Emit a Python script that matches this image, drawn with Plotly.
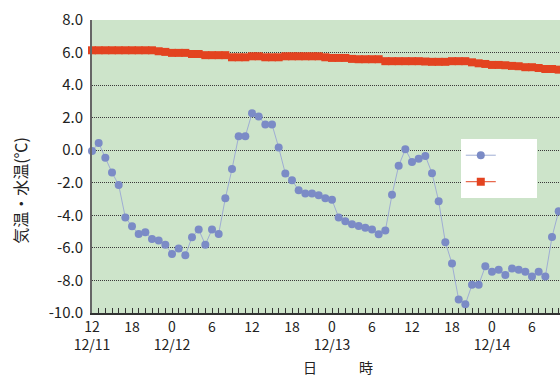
import plotly.graph_objects as go

# hours elapsed since 12/11 12:00 (hourly observations)
hours = list(range(71))

air_temp = [
    -0.05, 0.45, -0.47, -1.37, -2.13, -4.13, -4.67, -5.15, -5.04, -5.45,
    -5.55, -5.80, -6.37, -6.04, -6.45, -5.34, -4.87, -5.80, -4.87, -5.14,
    -2.95, -1.16, 0.86, 0.86, 2.27, 2.07, 1.58, 1.58, 0.17, -1.43,
    -1.84, -2.46, -2.66, -2.66, -2.76, -2.95, -3.05, -4.13, -4.36, -4.55,
    -4.65, -4.77, -4.87, -5.16, -4.93, -2.74, -0.96, 0.06, -0.72, -0.53,
    -0.35, -1.41, -3.13, -5.65, -6.96, -9.17, -9.46, -8.27, -8.27, -7.13,
    -7.47, -7.35, -7.66, -7.27, -7.35, -7.47, -7.76, -7.47, -7.76, -5.33,
    -3.75,
]

water_temp = [
    6.14, 6.14, 6.14, 6.14, 6.14, 6.14, 6.14, 6.14, 6.14, 6.14,
    6.08, 6.04, 5.98, 5.98, 5.98, 5.91, 5.91, 5.84, 5.84, 5.84,
    5.84, 5.71, 5.71, 5.71, 5.77, 5.77, 5.71, 5.71, 5.71, 5.77,
    5.77, 5.77, 5.77, 5.77, 5.77, 5.71, 5.67, 5.67, 5.67, 5.61,
    5.59, 5.59, 5.59, 5.59, 5.47, 5.47, 5.47, 5.47, 5.47, 5.47,
    5.45, 5.43, 5.43, 5.43, 5.47, 5.47, 5.47, 5.40, 5.34, 5.30,
    5.24, 5.24, 5.22, 5.18, 5.16, 5.10, 5.10, 5.05, 4.99, 4.99,
    4.95,
]

hour_tick_vals = list(range(71))
hour_tick_labels = ["12", "18", "0", "6", "12", "18", "0", "6", "12", "18", "0", "6"]
date_tick_vals = [0, 12, 36, 60]
date_tick_labels = ["12/11", "12/12", "12/13", "12/14"]
y_tick_vals = [8, 6, 4, 2, 0, -2, -4, -6, -8, -10]
y_tick_labels = ["8.0", "6.0", "4.0", "2.0", "0.0", "-2.0", "-4.0", "-6.0", "-8.0", "-10.0"]

series_names = ["気温", "水温"]
y_title = "気温・水温(℃)"
x_title = "日　　　時"

FONT = "Noto Sans CJK JP"
TXT = "#222222"

ticktext_all = []
for h in hour_tick_vals:
    if h % 6 == 0:
        label = hour_tick_labels[h // 6]
        if h in date_tick_vals:
            label += "<br>" + date_tick_labels[date_tick_vals.index(h)]
        ticktext_all.append(label)
    else:
        ticktext_all.append("")

fig = go.Figure()
fig.add_trace(go.Scatter(
    x=hours, y=air_temp, name=series_names[0], mode="lines+markers",
    legendgroup="a",
    line=dict(color="#9fadd4", width=1),
    marker=dict(symbol="circle", size=8, color="#7b8bc6"),
    cliponaxis=False,
))
fig.add_trace(go.Scatter(
    x=hours, y=water_temp, name=series_names[1], mode="lines+markers",
    legendgroup="b",
    line=dict(color="#e34320", width=1),
    marker=dict(symbol="square", size=8, color="#e34320"),
    cliponaxis=False,
))

annotations = []
annotations.append(dict(x=-0.154, y=0.42, xref="paper", yref="paper", text=y_title,
                        textangle=-90, showarrow=False, xanchor="center", yanchor="middle",
                        font=dict(family=FONT, size=16, color=TXT)))
annotations.append(dict(x=0.5256, y=-0.183, xref="paper", yref="paper", text=x_title,
                        showarrow=False, xanchor="center", yanchor="middle",
                        font=dict(family=FONT, size=14, color=TXT)))

fig.update_layout(
    width=560, height=376,
    margin=dict(l=92, r=0, t=20, b=63),
    paper_bgcolor="white",
    plot_bgcolor="#cde4ca",
    font=dict(family=FONT, size=14, color=TXT),
    showlegend=True,
    legend=dict(x=0.788, y=0.594, xanchor="left", yanchor="top",
                bgcolor="white", borderwidth=0, tracegroupgap=4,
                font=dict(family=FONT, size=15, color="white"),
                itemwidth=30),
    annotations=annotations,
    xaxis=dict(range=[0, 70.2], tickmode="array", tickvals=hour_tick_vals,
               ticktext=ticktext_all, ticks="inside", ticklen=5, tickwidth=1,
               tickcolor="#333333", showgrid=False, zeroline=False,
               showline=True, linecolor="#333333", linewidth=2,
               tickfont=dict(family=FONT, size=14, color=TXT)),
    yaxis=dict(range=[-10, 8], tickmode="array", tickvals=y_tick_vals,
               ticktext=y_tick_labels, showgrid=True, gridcolor="#3a3a3a",
               gridwidth=1, griddash="1px,1px", zeroline=False,
               showline=True, linecolor="#666666", linewidth=2,
               ticks="", ticklabelstandoff=4,
               tickfont=dict(family=FONT, size=15, color=TXT)),
)

fig.write_html("out.html")
